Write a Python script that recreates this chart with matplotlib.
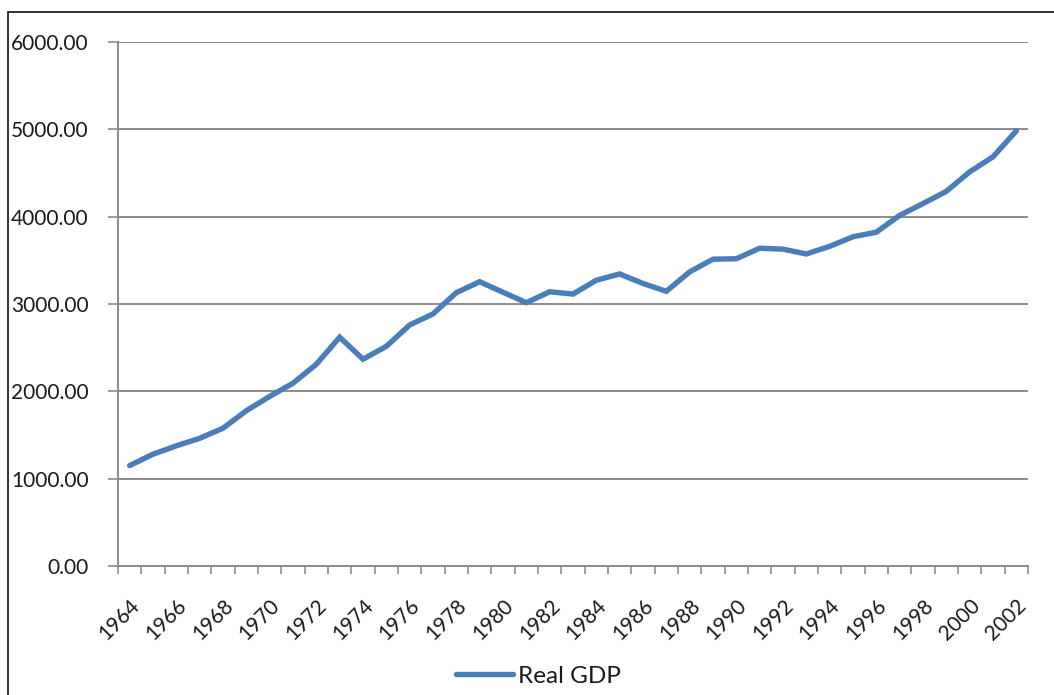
import matplotlib
matplotlib.use("Agg")
import matplotlib.pyplot as plt
from matplotlib.patches import Rectangle

plt.rcParams['font.family'] = ['Lato', 'DejaVu Sans']

years = list(range(1964, 2003))
real_gdp = [1150, 1280, 1376, 1462, 1578, 1778, 1942, 2093, 2310, 2620,
            2368, 2515, 2760, 2886, 3130, 3255, 3135, 3015, 3140, 3114,
            3272, 3344, 3235, 3145, 3368, 3513, 3518, 3639, 3628, 3573,
            3660, 3770, 3822, 4015, 4150, 4290, 4513, 4685, 4983]
y_ticks = [0, 1000, 2000, 3000, 4000, 5000, 6000]

W, H = 1054, 695
fig = plt.figure(figsize=(W / 100, H / 100), dpi=100)
ax = fig.add_axes([118 / W, 1 - 566 / H, (1028 - 118) / W, (566 - 42) / H])

grid_col = '#8c8c8c'
x = list(range(len(years)))
ax.plot(x, real_gdp, color='#4a7ebb', lw=3.9, solid_capstyle='round',
        solid_joinstyle='miter', label='Real GDP', zorder=3)

ax.set_xlim(-0.5, len(years) - 0.5)
ax.set_ylim(0, 6000)
ax.set_yticks(y_ticks)
ax.set_yticklabels([f"{v:.2f}" for v in y_ticks])
ax.yaxis.grid(True, color=grid_col, lw=1.4)
ax.set_axisbelow(True)

# tick marks between categories, labels on every other year
ax.set_xticks([i - 0.5 for i in range(len(years) + 1)])
ax.set_xticklabels([])
ax.set_xticks(x[::2], minor=True)
ax.set_xticklabels([str(y) for y in years[::2]], minor=True, rotation=45,
                   ha='right', rotation_mode='anchor')
ax.tick_params(axis='x', which='major', length=6, width=1.2, color=grid_col)
ax.tick_params(axis='x', which='minor', length=0, pad=21, labelsize=15,
               labelcolor='#1a1a1a')
ax.tick_params(axis='y', length=7, width=1.2, color=grid_col, pad=14,
               labelsize=15, labelcolor='#1a1a1a')

for s in ['top', 'right']:
    ax.spines[s].set_visible(False)
for s in ['left', 'bottom']:
    ax.spines[s].set_color(grid_col)
    ax.spines[s].set_linewidth(1.4)

fig.legend(loc='center', bbox_to_anchor=(538 / W, 1 - 676 / H), frameon=False,
           fontsize=17.5, handlelength=2.35, handletextpad=0.2,
           labelcolor='#1a1a1a')

# chart area border (cropped on the right and bottom)
fig.patches.append(Rectangle((8 / W, -0.1), 1.2, 1 - 12 / H + 0.1,
                             transform=fig.transFigure, fill=False,
                             edgecolor='#222222', lw=1.3))

fig.savefig("out.png", dpi=100)
